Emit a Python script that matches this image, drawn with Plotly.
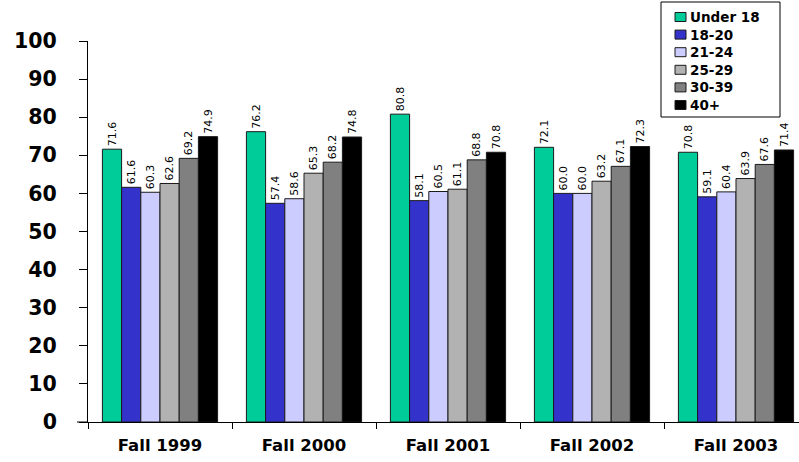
import plotly.graph_objects as go

terms = ["Fall 1999", "Fall 2000", "Fall 2001", "Fall 2002", "Fall 2003"]
age_groups = ["Under 18", "18-20", "21-24", "25-29", "30-39", "40+"]

under_18 = [71.6, 76.2, 80.8, 72.1, 70.8]
age_18_20 = [61.6, 57.4, 58.1, 60.0, 59.1]
age_21_24 = [60.3, 58.6, 60.5, 60.0, 60.4]
age_25_29 = [62.6, 65.3, 61.1, 63.2, 63.9]
age_30_39 = [69.2, 68.2, 68.8, 67.1, 67.6]
age_40_plus = [74.9, 74.8, 70.8, 72.3, 71.4]

series = [under_18, age_18_20, age_21_24, age_25_29, age_30_39, age_40_plus]
colors = ["#00CC99", "#3333CC", "#CCCCFF", "#B2B2B2", "#808080", "#000000"]

W, H = 799, 462
L, R, T, B = 88, 0, 41, 40
plot_w = W - L - R
plot_h = H - T - B
cat_px = 144.0
x_hi = -0.5 + plot_w / cat_px

FONT = "DejaVu Sans, Verdana, sans-serif"


def px_x(p):
    return (p - L) / plot_w


def px_y(p):
    return (H - B - p) / plot_h


fig = go.Figure()
for name, vals, col in zip(age_groups, series, colors):
    fig.add_trace(go.Bar(
        name=name, x=terms, y=vals,
        marker=dict(color=col, line=dict(color="#1a1a1a", width=1)),
        text=[f"{v:.1f}" for v in vals],
        textposition="outside", textangle=-90,
        constraintext="none",
        textfont=dict(family=FONT, size=11, color="#000000"),
        outsidetextfont=dict(family=FONT, size=11, color="#000000"),
        cliponaxis=False,
        showlegend=False,
    ))

# Boxed legend in the top-right corner
shapes = [dict(
    type="rect", xref="paper", yref="paper",
    x0=px_x(661), x1=px_x(780), y0=px_y(117), y1=px_y(2),
    line=dict(color="#000000", width=1), fillcolor="white", layer="above",
)]
annotations = []
row_y0, row_dy = 17.0, 17.6
for i, (name, col) in enumerate(zip(age_groups, colors)):
    cy = row_y0 + i * row_dy
    shapes.append(dict(
        type="rect", xref="paper", yref="paper",
        x0=px_x(675), x1=px_x(686), y0=px_y(cy + 4.5), y1=px_y(cy - 4.5),
        line=dict(color="#1a1a1a", width=1), fillcolor=col, layer="above",
    ))
    annotations.append(dict(
        xref="paper", yref="paper", x=px_x(688), y=px_y(cy),
        xanchor="left", yanchor="middle", showarrow=False,
        text=name, font=dict(family=FONT, size=13.5, color="#000000", weight="bold"),
    ))

# x-axis line continues a little left of the y-axis
shapes.append(dict(
    type="line", xref="paper", yref="paper",
    x0=px_x(77), x1=0, y0=0, y1=0,
    line=dict(color="#000000", width=1),
))

fig.update_layout(
    width=W, height=H,
    margin=dict(l=L, r=R, t=T, b=B),
    paper_bgcolor="white", plot_bgcolor="white",
    barmode="group", bargap=0.2, bargroupgap=0,
    uniformtext=dict(mode=False),
    font=dict(family=FONT, color="#000000"),
    showlegend=False,
    shapes=shapes,
    annotations=annotations,
    xaxis=dict(
        range=[-0.5, x_hi],
        showline=True, linecolor="#000000", linewidth=1,
        ticks="outside", tickson="boundaries", ticklen=6, tickcolor="#000000",
        tickfont=dict(family=FONT, size=16.5, weight="bold", color="#000000"),
        ticklabelstandoff=8,
        showgrid=False, zeroline=False,
    ),
    yaxis=dict(
        range=[0, 100], dtick=10,
        showline=True, linecolor="#000000", linewidth=1,
        ticks="outside", ticklen=8, tickcolor="#000000",
        tickfont=dict(family=FONT, size=20.5, weight="bold", color="#000000"),
        ticklabelstandoff=18,
        showgrid=False, zeroline=False,
    ),
)

fig.write_html("out.html")
